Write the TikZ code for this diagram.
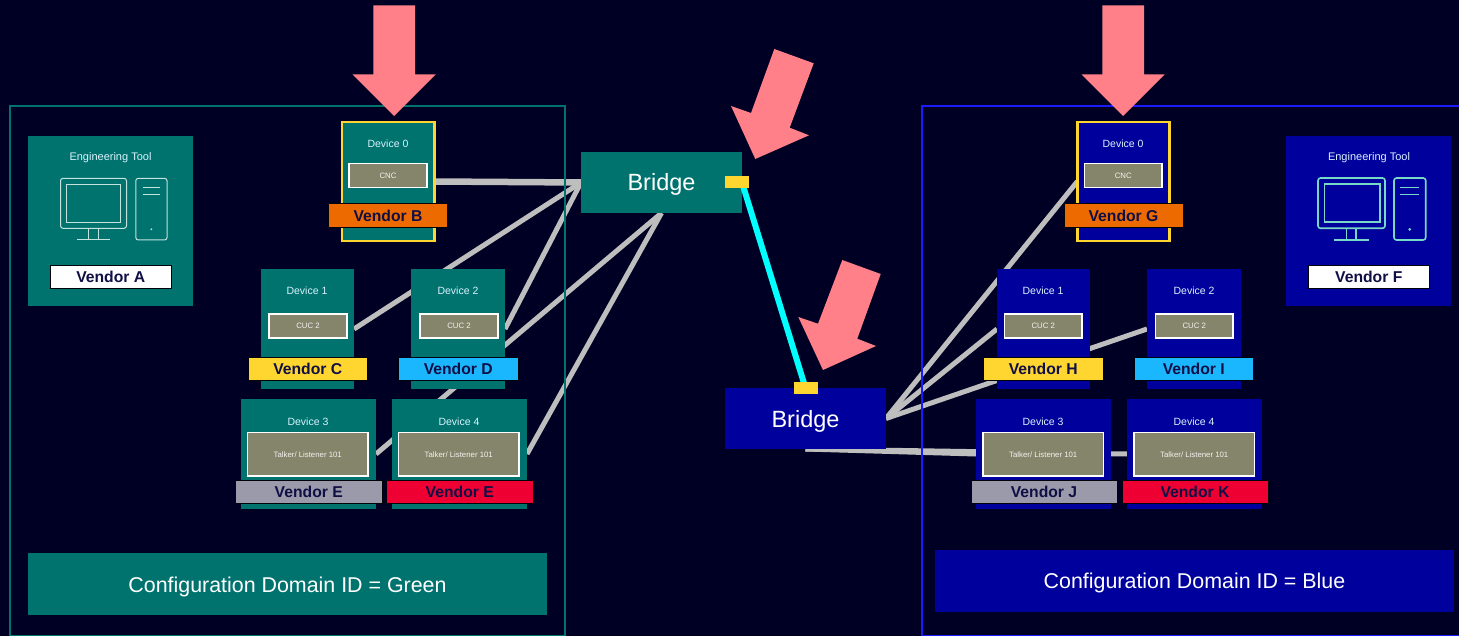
\documentclass[tikz,border=0pt]{standalone}
\usepackage{fontspec}
\setmainfont{Liberation Sans}
\usetikzlibrary{backgrounds}
\definecolor{bgc}{HTML}{000025}
\definecolor{tealc}{HTML}{00736E}
\definecolor{bluec}{HTML}{00009C}
\definecolor{frameb}{HTML}{1A1AFF}
\definecolor{pinkc}{HTML}{FF8088}
\definecolor{olivec}{HTML}{85856B}
\definecolor{orangec}{HTML}{ED6A00}
\definecolor{yellowc}{HTML}{FFD530}
\definecolor{skyc}{HTML}{1AB7FF}
\definecolor{greyc}{HTML}{9A9AAB}
\definecolor{redc}{HTML}{EE0033}
\definecolor{inkc}{HTML}{0F0F45}
\definecolor{linec}{HTML}{BEBEBE}
\definecolor{iconl}{HTML}{C4E2DE}
\definecolor{iconm}{HTML}{78D8C8}
\definecolor{trunkc}{HTML}{00FFFF}
\newcommand\pxnode[7][]{%
  \pgfmathsetmacro\pxcx{(#3+#5)/2}\pgfmathsetmacro\pxcy{(#4+#6)/2}%
  \pgfmathsetmacro\pxw{#5-#3}\pgfmathsetmacro\pxh{#6-#4}%
  \node[#1,minimum width=\pxw pt,minimum height=\pxh pt] (#2) at (\pxcx,\pxcy) {#7};}
\tikzset{
  pxbox/.style={inner sep=0pt,outer sep=0pt,rectangle},
  tealbox/.style={pxbox,fill=tealc},
  bluebox/.style={pxbox,fill=bluec},
  cncteal/.style={pxbox,fill=tealc,draw=yellowc,line width=2.6pt},
  cncblue/.style={pxbox,fill=bluec,draw=yellowc,line width=2.6pt},
  inner box/.style={pxbox,fill=olivec,draw=white,line width=1.2pt,text=white!90!olivec,font=\fontsize{7.8}{9}\selectfont},
  vendor/.style={pxbox,draw=black!85!inkc,line width=1pt,text=inkc,font=\fontsize{15.7}{18}\selectfont\bfseries},
  devtext/.style={inner sep=0pt,outer sep=0pt,text=white!85!cyan,font=\fontsize{10.5}{12}\selectfont},
  tooltext/.style={devtext,font=\fontsize{11}{13}\selectfont},
  bridgebox/.style={pxbox,text=white,font=\fontsize{23.5}{28}\selectfont,text height=17pt,text depth=0pt},
  confbox/.style={pxbox,text=white,font=\fontsize{21.4}{26}\selectfont,text height=16.2pt,text depth=0pt},
  port/.style={pxbox,fill=yellowc},
  wire/.style={line width=5pt,draw=linec},
  trunk/.style={line width=6pt,draw=trunkc},
  bigarrow/.style={fill=pinkc,draw=none},
  icon/.style={line width=1pt,rounded corners=2.5pt},
}
\begin{document}
\begin{tikzpicture}[x=1pt,y=-1pt]
\useasboundingbox (0,0) rectangle (1459,636);
% bridges and devices
\pxnode[bridgebox,fill=tealc]{bg}{581}{152}{742}{213}{Bridge}
\pxnode[bridgebox,fill=bluec]{bb}{725}{388}{886}{449}{Bridge}
\pxnode[cncteal]{g0}{342}{122}{434.5}{241}{}
\pxnode[tealbox]{g1}{261}{269}{354}{389}{}
\pxnode[tealbox]{g2}{411}{269}{505}{389}{}
\pxnode[tealbox]{g3}{241}{399}{376}{509}{}
\pxnode[tealbox]{g4}{392}{399}{527}{509}{}
\pxnode[cncblue]{b0}{1077.3}{122}{1169.7}{241}{}
\pxnode[bluebox]{b1}{997}{269}{1090}{389}{}
\pxnode[bluebox]{b2}{1147}{269}{1241}{389}{}
\pxnode[bluebox]{b3}{976}{399}{1111}{509}{}
\pxnode[bluebox]{b4}{1127}{399}{1262}{509}{}
% background, wires and domain frames lie behind the boxes
\begin{scope}[on background layer]
  \fill[bgc] (0,0) rectangle (1459,636);
  \draw[wire,line width=6.5pt] (g0.east) -- (bg.west);
  \draw[wire] (g1.east) -- (bg.west);
  \draw[wire] (g2.east) -- (bg.west);
  \draw[wire] (g3.east) -- (bg.south);
  \draw[wire] (g4.east) -- (bg.south);
  \draw[wire] (bb.east) -- (b0.west);
  \draw[wire] (bb.east) -- (b1.west);
  \draw[wire] (bb.east) -- (b2.west);
  \draw[wire] (bb.south) -- (b3.west);
  \draw[wire] (bb.south) -- (b4.west);
  \draw[tealc,line width=2pt] (10,106) rectangle (565,635.5);
  \draw[frameb,line width=2pt] (921.5,106) rectangle (1470,635.5);
\end{scope}
% trunk
\draw[trunk] (bg.east) -- (bb.north);
\pxnode[port]{pg}{725}{176}{749}{188}{}
\pxnode[port]{pb}{794}{382}{818}{394}{}
% device captions
\node[devtext] (tg0) at (388,143.5) {Device 0};
\node[devtext] (tg1) at (307,290.5) {Device 1};
\node[devtext] (tg2) at (458,290.5) {Device 2};
\node[devtext] (tg3) at (308,421.5) {Device 3};
\node[devtext] (tg4) at (459,421.5) {Device 4};
\node[devtext] (tb0) at (1123,143.5) {Device 0};
\node[devtext] (tb1) at (1043,290.5) {Device 1};
\node[devtext] (tb2) at (1194,290.5) {Device 2};
\node[devtext] (tb3) at (1043,421.5) {Device 3};
\node[devtext] (tb4) at (1194,421.5) {Device 4};
% inner boxes
\pxnode[inner box]{ig0}{349}{163.5}{427}{187.5}{CNC}
\pxnode[inner box]{ig1}{269}{314}{347}{338}{CUC 2}
\pxnode[inner box]{ig2}{420}{314}{498}{338}{CUC 2}
\pxnode[inner box]{ig3}{247.5}{432.5}{368}{476}{Talker/ Listener 101}
\pxnode[inner box]{ig4}{398.5}{432.5}{519}{476}{Talker/ Listener 101}
\pxnode[inner box]{ib0}{1084.5}{163.5}{1162}{187.5}{CNC}
\pxnode[inner box]{ib1}{1004.5}{314}{1082}{338}{CUC 2}
\pxnode[inner box]{ib2}{1155.5}{314}{1233}{338}{CUC 2}
\pxnode[inner box]{ib3}{983}{432.5}{1103.5}{476}{Talker/ Listener 101}
\pxnode[inner box]{ib4}{1134}{432.5}{1254.5}{476}{Talker/ Listener 101}
% vendor labels
\pxnode[vendor,fill=orangec]{vb}{328.5}{203.7}{447.5}{227.3}{Vendor B}
\pxnode[vendor,fill=yellowc]{vc}{248}{357.2}{367.5}{380.8}{Vendor C}
\pxnode[vendor,fill=skyc]{vd}{398.5}{357.2}{518}{380.8}{Vendor D}
\pxnode[vendor,fill=greyc]{ve}{235.5}{480.3}{382}{503.9}{Vendor E}
\pxnode[vendor,fill=redc]{vex}{386.5}{480.3}{533}{503.9}{Vendor E}
\pxnode[vendor,fill=orangec]{vg}{1064}{203.7}{1183}{227.3}{Vendor G}
\pxnode[vendor,fill=yellowc]{vh}{983.5}{357.2}{1103}{380.8}{Vendor H}
\pxnode[vendor,fill=skyc]{vi}{1134}{357.2}{1253.5}{380.8}{Vendor I}
\pxnode[vendor,fill=greyc]{vj}{971}{480.3}{1117}{503.9}{Vendor J}
\pxnode[vendor,fill=redc]{vk}{1122}{480.3}{1268}{503.9}{Vendor K}
% engineering tools
\pxnode[tealbox]{eg}{28}{136}{193}{306}{}
\pxnode[bluebox]{eb}{1286}{136}{1451}{306}{}
\node[tooltext] (teg) at (110.5,158) {Engineering Tool};
\node[tooltext] (teb) at (1369,158) {Engineering Tool};
\pxnode[vendor,fill=white]{va}{50.5}{265.2}{171}{289}{Vendor A}
\pxnode[vendor,fill=white]{vf}{1308.5}{265.2}{1429}{289}{Vendor F}
% icons
\begin{scope}[icon,draw=iconl]
  \draw (60.5,178.3) rectangle (126.5,228.3);
  \draw[rounded corners=0pt] (66.3,184.3) rectangle (120.7,222.3);
  \draw[rounded corners=0pt] (88.7,228.3) -- (88.7,240) (98.7,228.3) -- (98.7,240) (76.7,240) -- (110,240);
  \draw (135.8,178.3) rectangle (167,240);
  \draw[rounded corners=0pt] (143,187.3) -- (160,187.3) (143,194.7) -- (160,194.7);
  \fill[iconl] (151.3,229.3) circle (1pt);
\end{scope}
\begin{scope}[icon,draw=iconm,line width=1.6pt]
  \draw (1318,178) rectangle (1385,228.3);
  \draw[rounded corners=0pt] (1324.3,184.3) rectangle (1379.7,222.3);
  \draw[rounded corners=0pt] (1346.3,228.3) -- (1346.3,240) (1356,228.3) -- (1356,240) (1333.5,240) -- (1369.3,240);
  \draw (1394,178) rectangle (1425.7,240);
  \draw[rounded corners=0pt] (1400,187.7) -- (1419.3,187.7) (1400,194.5) -- (1419.3,194.5);
  \fill[iconm] (1409.7,229.3) circle (1.5pt);
\end{scope}
% domain captions
\pxnode[confbox,fill=tealc]{cg}{28}{553}{547}{615}{Configuration Domain ID = Green}
\pxnode[confbox,fill=bluec]{cb}{935}{550}{1454}{611.5}{Configuration Domain ID = Blue}
% pink arrows
\fill[bigarrow] (373.3,5.5) -- (415,5.5) -- (415,74.5) -- (435.7,74.5) -- (394,116) -- (352.7,74.5) -- (373.3,74.5) -- cycle;
\fill[bigarrow] (1102.3,5.5) -- (1144,5.5) -- (1144,74.5) -- (1164.7,74.5) -- (1123,116) -- (1081.7,74.5) -- (1102.3,74.5) -- cycle;
\fill[bigarrow] (774.3,49) -- (813.7,63.3) -- (789.7,127.7) -- (809,135.3) -- (755.3,159) -- (731,106) -- (751,113) -- cycle;
\fill[bigarrow] (842.3,260) -- (880.7,274) -- (857.3,338.7) -- (876,346) -- (823,370) -- (798.3,317) -- (818,323.7) -- cycle;
\end{tikzpicture}
\end{document}
